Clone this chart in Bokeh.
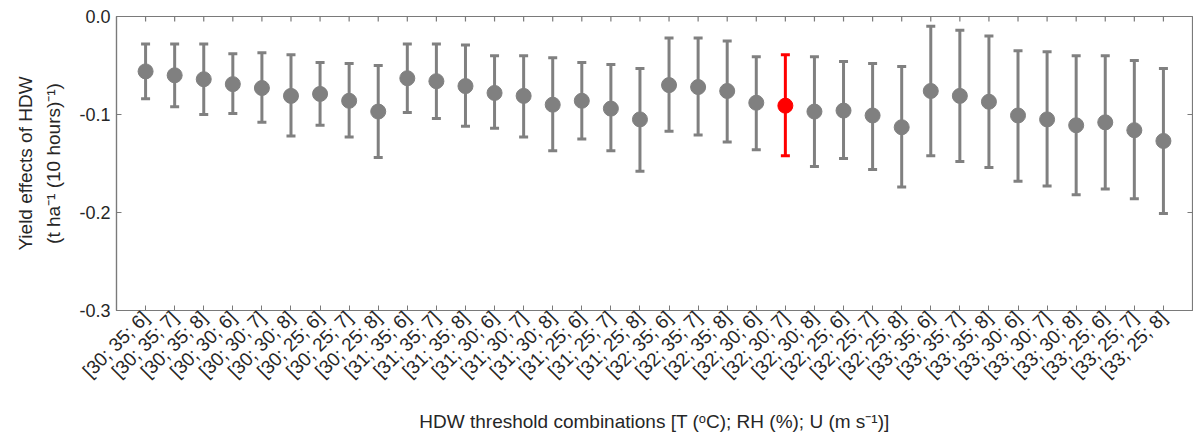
import numpy as np
from bokeh.plotting import figure
from bokeh.models import (ColumnDataSource, Range1d, FixedTicker,
                          Whisker, TeeHead, NumeralTickFormatter)
from bokeh.embed import file_html
from bokeh.resources import INLINE

# HDW threshold combinations [T; RH; U]
categories = [
    "[30; 35; 6]", "[30; 35; 7]", "[30; 35; 8]", "[30; 30; 6]", "[30; 30; 7]", "[30; 30; 8]",
    "[30; 25; 6]", "[30; 25; 7]", "[30; 25; 8]", "[31; 35; 6]", "[31; 35; 7]", "[31; 35; 8]",
    "[31; 30; 6]", "[31; 30; 7]", "[31; 30; 8]", "[31; 25; 6]", "[31; 25; 7]", "[31; 25; 8]",
    "[32; 35; 6]", "[32; 35; 7]", "[32; 35; 8]", "[32; 30; 6]", "[32; 30; 7]", "[32; 30; 8]",
    "[32; 25; 6]", "[32; 25; 7]", "[32; 25; 8]", "[33; 35; 6]", "[33; 35; 7]", "[33; 35; 8]",
    "[33; 30; 6]", "[33; 30; 7]", "[33; 30; 8]", "[33; 25; 6]", "[33; 25; 7]", "[33; 25; 8]",
]
effect = [
    -0.056, -0.060, -0.064, -0.069, -0.073, -0.081, -0.079, -0.086, -0.097,
    -0.063, -0.066, -0.071, -0.078, -0.081, -0.090, -0.086, -0.094, -0.105,
    -0.070, -0.072, -0.076, -0.088, -0.091, -0.097, -0.096, -0.101, -0.113,
    -0.076, -0.081, -0.087, -0.101, -0.105, -0.111, -0.108, -0.116, -0.127,
]
upper = [
    -0.028, -0.028, -0.028, -0.038, -0.037, -0.039, -0.047, -0.048, -0.050,
    -0.028, -0.028, -0.029, -0.040, -0.040, -0.042, -0.047, -0.049, -0.053,
    -0.022, -0.022, -0.025, -0.041, -0.039, -0.041, -0.046, -0.048, -0.051,
    -0.010, -0.014, -0.020, -0.035, -0.036, -0.040, -0.040, -0.045, -0.053,
]
lower = [
    -0.084, -0.092, -0.100, -0.099, -0.108, -0.122, -0.111, -0.123, -0.144,
    -0.098, -0.104, -0.112, -0.114, -0.123, -0.137, -0.125, -0.137, -0.158,
    -0.117, -0.121, -0.128, -0.136, -0.142, -0.153, -0.145, -0.156, -0.174,
    -0.142, -0.148, -0.154, -0.168, -0.173, -0.182, -0.176, -0.186, -0.201,
]
highlight = "[32; 30; 7]"
y_ticks = [-0.3, -0.2, -0.1, 0.0]

n = len(categories)
xpos = list(range(1, n + 1))
X_MIN, X_MAX = 0, n + 1
Y_MIN, Y_MAX = -0.3, 0.0
GRAY = "#808080"
RED = "#ff0000"
TXT = "#262626"
AX = "#7a7a7a"
FONT = "Liberation Sans"

hi = categories.index(highlight)
idx_gray = [i for i in range(n) if i != hi]
idx_red = [hi]

def sub(ids):
    return ColumnDataSource(dict(
        x=[xpos[i] for i in ids], y=[effect[i] for i in ids],
        up=[upper[i] for i in ids], lo=[lower[i] for i in ids]))

src_gray = sub(idx_gray)
src_red = sub(idx_red)

p = figure(width=1193, height=439, output_backend="svg", toolbar_location=None,
           x_range=Range1d(X_MIN, X_MAX), y_range=Range1d(Y_MIN, Y_MAX),
           min_border_left=116, min_border_right=1, min_border_top=16, min_border_bottom=129,
           background_fill_color="white", border_fill_color="white")
p.grid.visible = False
p.outline_line_color = AX
p.outline_line_width = 1.2

# x axis
xa = p.xaxis[0]
xa.ticker = FixedTicker(ticks=xpos)
xa.major_label_overrides = {xpos[i]: categories[i] for i in range(n)}
xa.major_label_orientation = np.pi / 4
xa.axis_label = "HDW threshold combinations [T (ᵒC); RH (%); U (m s⁻¹)]"

# y axis
ya = p.yaxis[0]
ya.ticker = FixedTicker(ticks=y_ticks)
ya.formatter = NumeralTickFormatter(format="0.0")
ya.axis_label = "Yield effects of HDW\n(t ha⁻¹ (10 hours)⁻¹)"

for ax in (xa, ya):
    ax.axis_line_color = AX
    ax.axis_line_width = 1.2
    ax.major_tick_line_color = AX
    ax.major_tick_in = 5
    ax.major_tick_out = 0
    ax.minor_tick_line_color = None
    ax.major_label_text_font = FONT
    ax.major_label_text_color = TXT
    ax.axis_label_text_font = FONT
    ax.axis_label_text_color = TXT
    ax.axis_label_text_font_style = "normal"
    ax.axis_label_text_font_size = "19px"

xa.major_label_text_font_size = "19px"
xa.major_label_standoff = 4
xa.axis_label_standoff = 19
ya.major_label_text_font_size = "18px"
ya.major_label_standoff = 6
ya.axis_label_standoff = 12
ya.axis_label_text_line_height = 1.35

# inward box ticks on top and right edges (mirroring the axis ticks)
p.scatter(xpos, [Y_MAX] * n, marker="dash", angle=np.pi / 2, size=10,
          line_color=AX, line_width=1.2)
p.scatter([X_MAX] * len(y_ticks), y_ticks, marker="dash", size=10,
          line_color=AX, line_width=1.2)

for src, col in ((src_gray, GRAY), (src_red, RED)):
    w = Whisker(base="x", upper="up", lower="lo", source=src,
                line_color=col, line_width=3,
                upper_head=TeeHead(size=9, line_color=col, line_width=3),
                lower_head=TeeHead(size=9, line_color=col, line_width=3))
    p.add_layout(w)
    p.scatter("x", "y", source=src, size=15, fill_color=col, line_color=col)

open("out.html", "w").write(file_html(p, INLINE))
